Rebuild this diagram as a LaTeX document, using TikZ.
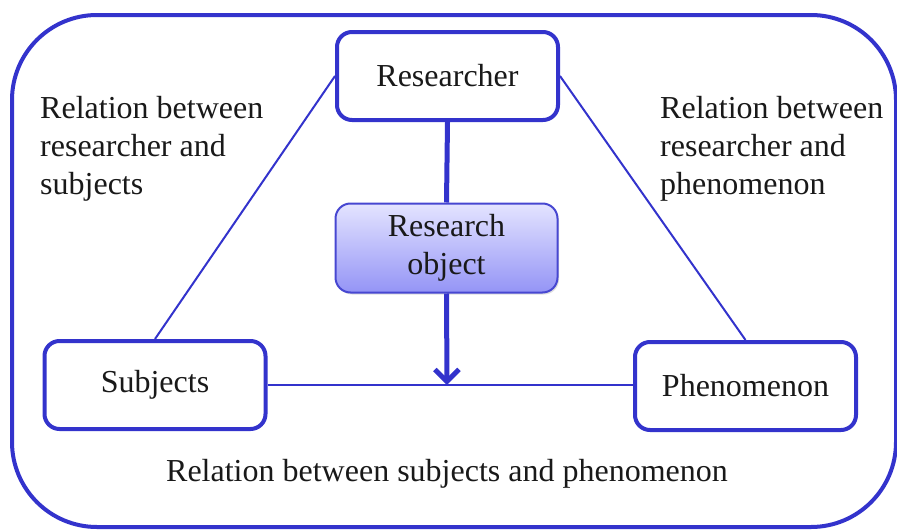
\documentclass[tikz,border=0pt]{standalone}
\usepackage{fontspec}
\setmainfont{Liberation Serif}
\usetikzlibrary{arrows.meta,shadows}
\definecolor{bblue}{RGB}{51,51,204}
\definecolor{objtop}{RGB}{228,228,255}
\definecolor{objbot}{RGB}{148,148,246}
\begin{document}
\begin{tikzpicture}[x=1pt,y=-1pt,
  every node/.style={font=\fontsize{32}{38}\selectfont, text=black!90},
  mainbox/.style={draw=bblue, line width=4pt, rounded corners=15pt, fill=white,
    minimum width=221pt, minimum height=88pt, inner sep=0pt, align=center},
  objbox/.style={draw=bblue!90, line width=2pt, rounded corners=15pt,
    top color=objtop, bottom color=objbot,
    drop shadow={opacity=0.25, shadow xshift=1.5pt, shadow yshift=-2pt},
    minimum width=222pt, minimum height=89pt, inner sep=0pt, align=center},
  rel/.style={inner sep=0pt, align=left, anchor=north west},
  thinline/.style={draw=bblue, line width=2pt},
  thickline/.style={draw=bblue, line width=5pt}]
\useasboundingbox (0,0) rectangle (897,530);
\draw[bblue, line width=4pt, rounded corners=85pt] (12,15) rectangle (896,527);

\node[mainbox] (res) at (447.5,76) {Researcher};
\node[objbox] (obj) at (446.5,248) {Research\\object};
\node[mainbox] (subj) at (155,385) {Subjects};
\node[mainbox] (phen) at (745.5,386) {Phenomenon};

\coordinate (tip) at (447,385);
\draw[thinline] (subj.east) -- (subj.east -| phen.west);
\draw[thinline] (res.west) -- (subj.north);
\draw[thinline] (res.east) -- (phen.north);
\draw[thickline] (res.south) -- (obj.north);
\draw[thickline, -{Straight Barb[length=12pt,width=24pt]}] (obj.south) -- (tip);

\node[rel] (lrel) at (40,96) {Relation between\\researcher and\\subjects};
\node[rel] (rrel) at (660,96) {Relation between\\researcher and\\phenomenon};
\node[inner sep=0pt, anchor=base] (brel) at (447,481) {Relation between subjects and phenomenon};
\end{tikzpicture}
\end{document}
